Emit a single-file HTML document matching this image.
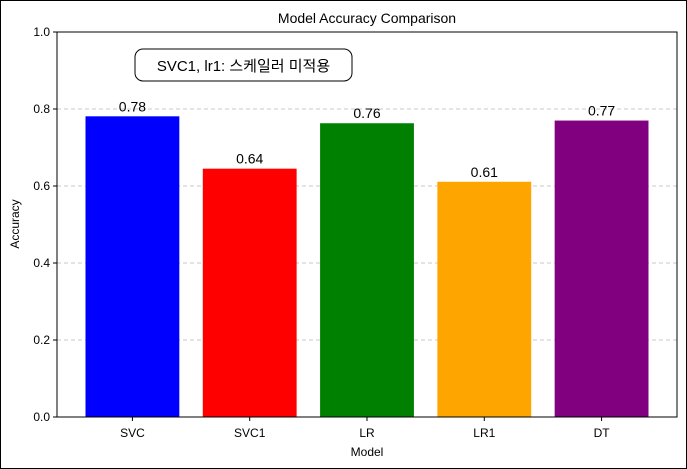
<!DOCTYPE html>
<html><head><meta charset="utf-8"><style>
html,body{margin:0;padding:0;background:#fff;}
svg{display:block;font-family:"Liberation Sans","Noto Sans CJK KR",sans-serif;}
</style></head><body>
<svg id="chart" width="687" height="469">
<rect x="0.5" y="0.5" width="686" height="468" fill="#fff" stroke="#000" stroke-width="1"/>
<g id="grid"></g><g id="bars"></g><g id="labels"></g><g id="axes"></g>
<text x="367" y="23" text-anchor="middle" font-size="14">Model Accuracy Comparison</text>
<text x="367" y="456" text-anchor="middle" font-size="12">Model</text>
<text transform="translate(19,224) rotate(-90)" text-anchor="middle" font-size="12">Accuracy</text>
<rect x="135" y="49" width="217" height="32" rx="8" fill="#fff" stroke="#000" stroke-width="1"/>
<text x="243.5" y="71" text-anchor="middle" font-size="15">SVC1, lr1: 스케일러 미적용</text>
</svg>
<script>
const categories = ["SVC","SVC1","LR","LR1","DT"];
const values = [0.781, 0.645, 0.763, 0.611, 0.770];
const valueLabels = ["0.78","0.64","0.76","0.61","0.77"];
const colors = ["blue","red","green","orange","purple"];
const yTicks = [0.0,0.2,0.4,0.6,0.8,1.0];
const yTickLabels = ["0.0","0.2","0.4","0.6","0.8","1.0"];

const L=57,R=677,T=32,B=417,PAD=0.643;
const ns="http://www.w3.org/2000/svg";
const unit=(R-L)/(categories.length-1+2*PAD);
const xs=i=>L+(i+PAD)*unit;
const bw=0.8*unit;
const ys=v=>B-v*(B-T);
function mk(tag,attrs,parent,txt){const e=document.createElementNS(ns,tag);for(const k in attrs)e.setAttribute(k,attrs[k]);if(txt!==undefined)e.textContent=txt;document.getElementById(parent).appendChild(e);return e;}

yTicks.forEach((t,i)=>{
  const y=ys(t);
  if(t>0&&t<1){const g=mk("line",{x1:L,x2:R,y1:y,y2:y,stroke:"#b8b8b8","stroke-dasharray":"4,3","stroke-width":0.8},"grid");
    
    }
  const tk=mk("line",{x1:L-4,x2:L,y1:y,y2:y,stroke:"#000"},"axes");
  
  
  const tl=mk("text",{x:L-7,y:y+4,"text-anchor":"end","font-size":12},"axes",yTickLabels[i]);
  
  
});
categories.forEach((c,i)=>{
  const cx=xs(i);
  const b=mk("rect",{x:cx-bw/2,y:ys(values[i]),width:bw,height:B-ys(values[i]),fill:colors[i]},"bars");
  
  
  const vl=mk("text",{x:cx,y:ys(values[i])-5,"text-anchor":"middle","font-size":14},"labels",valueLabels[i]);
  
  
  const tk=mk("line",{x1:cx,x2:cx,y1:B,y2:B+4,stroke:"#000"},"axes");
  
  
  const tl=mk("text",{x:cx,y:B+20,"text-anchor":"middle","font-size":12},"axes",c);
  
  
});
const fr=mk("rect",{x:L,y:T,width:R-L,height:B-T,fill:"none",stroke:"#000","stroke-width":1},"axes");


</script>
</body></html>
